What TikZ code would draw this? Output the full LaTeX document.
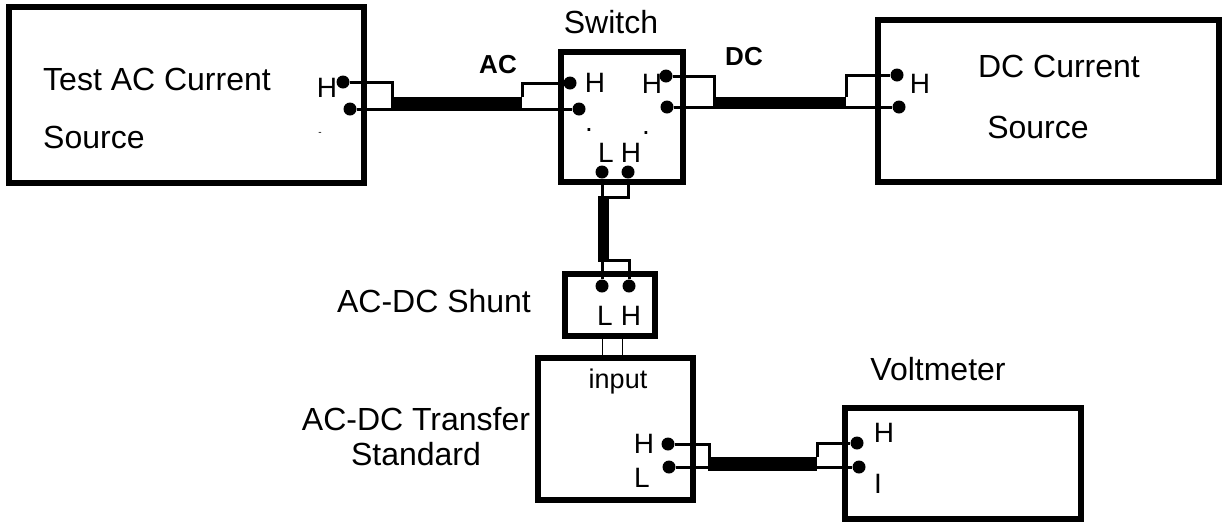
\documentclass[tikz,border=0pt]{standalone}
\usepackage{fontspec}
\setmainfont{Liberation Sans}
\begin{document}
\begin{tikzpicture}[x=1pt,y=-1pt,
  box/.style={draw, line width=6pt, inner sep=0pt, fill=none},
  dot/.style={circle, fill=black, inner sep=0pt, minimum size=13pt},
  wire/.style={line width=3pt},
  thinwire/.style={line width=1pt},
  cable/.style={fill=black},
  big/.style={inner sep=0pt, anchor=base, font=\fontsize{32}{38}\selectfont},
  term/.style={inner sep=0pt, anchor=base, font=\fontsize{28}{34}\selectfont},
  bold/.style={inner sep=0pt, anchor=base, font=\fontsize{26}{31}\selectfont\bfseries},
  small/.style={inner sep=0pt, anchor=base, font=\fontsize{27}{32}\selectfont}]
\useasboundingbox (0,0) rectangle (1225,523);

% boxes
\node[box, minimum width=355pt, minimum height=176pt] (src) at (186.5,95) {};
\node[box, minimum width=122pt, minimum height=130pt] (sw) at (622,117) {};
\node[box, minimum width=341pt, minimum height=162pt] (dcs) at (1048.5,101) {};
\node[box, minimum width=90pt, minimum height=62pt] (shunt) at (610,305) {};
\node[box, minimum width=155pt, minimum height=142pt] (xfer) at (615.5,429) {};
\node[box, minimum width=236pt, minimum height=111pt] (vm) at (963,463.5) {};

% texts
\node[big, anchor=base west] (t1) at (43,90) {Test AC Current};
\node[big, anchor=base west] (t2) at (43,148) {Source};
\node[term] (srcHl) at (327,97) {H};
\node[inner sep=0pt, anchor=base, font=\fontsize{10}{12}\selectfont] (srcmark) at (320,135) {-};
\node[bold] (ac) at (498,73) {AC};
\node[big] (swl) at (611,33) {Switch};
\node[term] (swAHl) at (595,92) {H};
\node[term] (swDHl) at (652,93) {H};
\node[term] (dotA) at (589,131) {.};
\node[term] (dotB) at (646,134) {.};
\node[term] (swLl) at (606,162) {L};
\node[term] (swHl) at (631,162) {H};
\node[bold] (dc) at (744,65) {DC};
\node[big] (t3) at (1059,77) {DC Current};
\node[big] (t4) at (1038,138) {Source};
\node[term] (dcHl) at (920,93) {H};
\node[big] (shl) at (434,312) {AC-DC Shunt};
\node[term] (shLl) at (605,325) {L};
\node[term] (shHl) at (631,325) {H};
\node[small] (inl) at (618,388) {input};
\node[big] (t5) at (416,430) {AC-DC Transfer};
\node[big] (t6) at (416,465) {Standard};
\node[term] (xHl) at (644,453) {H};
\node[term] (xLl) at (642,487) {L};
\node[big] (vml) at (938,380) {Voltmeter};
\node[term] (vmHl) at (884,442) {H};
\node[term] (vmIl) at (878,493) {I};

% terminals
\node[dot] (srcH) at (343,82) {};
\node[dot] (srcL) at (350,109) {};
\node[dot] (swAH) at (570,83) {};
\node[dot] (swAL) at (579,109) {};
\node[dot] (swDH) at (666,76) {};
\node[dot] (swDL) at (667,107) {};
\node[dot] (swL) at (602,172) {};
\node[dot] (swH) at (628,172) {};
\node[dot] (dcH) at (897,75) {};
\node[dot] (dcL) at (899,107) {};
\node[dot] (shL) at (602,286) {};
\node[dot] (shH) at (629,286) {};
\node[dot] (xH) at (668,444) {};
\node[dot] (xL) at (669,467) {};
\node[dot] (vmH) at (857,443) {};
\node[dot] (vmL) at (859,467) {};

% cable ends
\coordinate (acA) at (392,110);
\coordinate (acB) at (522,97);
\coordinate (dcA) at (714,108);
\coordinate (dcB) at (846,97);
\coordinate (vbA) at (598,197);
\coordinate (vbB) at (609,260);
\coordinate (xA) at (709,471);
\coordinate (xB) at (817,457);
\coordinate (in2) at (622,0);

% AC connection
\draw[wire] (srcH) -| (acA);
\draw[wire] (srcL) -- (swAL);
\draw[wire] (swAH) -| (acB);
\fill[cable] (acA) rectangle (acB);

% DC connection
\draw[wire] (swDH) -| (dcA);
\draw[wire] (swDL) -- (dcL);
\draw[wire] (dcH) -| (dcB);
\fill[cable] (dcA) rectangle (dcB);

% switch to shunt
\draw[wire] (swL) -- (shL);
\draw[wire] (swH) |- (vbA);
\draw[wire] (shH) |- (vbA |- vbB);
\fill[cable] (vbA) rectangle (vbB);

% shunt to transfer standard
\draw[thinwire] (shL |- shunt.south) -- (shL |- xfer.north);
\draw[thinwire] (in2 |- shunt.south) -- (in2 |- xfer.north);

% transfer standard to voltmeter
\draw[wire] (xH) -| (xA);
\draw[wire] (xL) -- (vmL);
\draw[wire] (vmH) -| (xB);
\fill[cable] (xA) rectangle (xB);
\end{tikzpicture}
\end{document}
